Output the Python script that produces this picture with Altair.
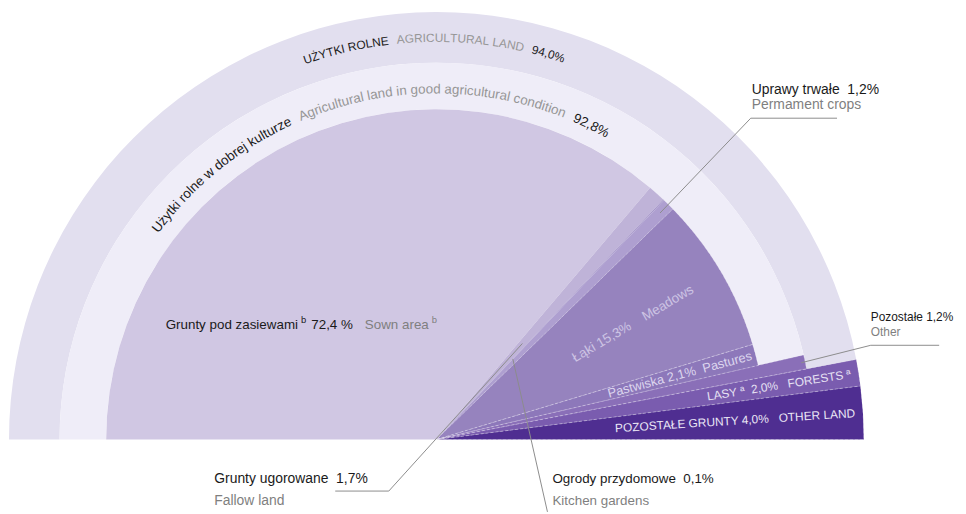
import math
import altair as alt
import pandas as pd

# ------------------------------------------------------------------ data
names_pl = ["Grunty pod zasiewami", "Grunty ugorowane", "Ogrody przydomowe",
            "Uprawy trwałe", "Łąki", "Pastwiska", "Pozostałe", "Lasy",
            "Pozostałe grunty"]
names_en = ["Sown area", "Fallow land", "Kitchen gardens", "Permament crops",
            "Meadows", "Pastures", "Other", "Forests", "Other land"]
shares = [72.4, 1.7, 0.1, 1.2, 15.3, 2.1, 1.2, 2.0, 4.0]
notes = ["b", "", "", "", "", "", "", "a", ""]
# ring that the wedge reaches: 0 inner, 1 "good condition" ring, 2 outer ring
reach = [0, 0, 0, 0, 0, 0, 1, 2, 2]

ring_pl = ["UŻYTKI ROLNE", "Użytki rolne w dobrej kulturze"]
ring_en = ["AGRICULTURAL LAND", "Agricultural land in good agricultural condition"]
ring_totals = [94.0, 92.8]

# ------------------------------------------------------------------ style
FONT = "Liberation Sans"
CX, CY = 432, 433
RADII = [333, 380, 431]
wedge_colors = ["#d0c7e3", "#bfb3d8", "#a090c6", "#ae9fd0", "#9683be",
                "#8d78ba", "#8a6fb8", "#7a5caf", "#4f2e91"]
ring_colors = ["#e2dfef", "#efedf8"]
BLACK, GRAY, LGRAY = "#1a1a1a", "#7f7f7f", "#969696"
THETA = alt.Scale(domain=[0, 100], range=[-math.pi / 2, math.pi / 2])
NB = "\u00a0"


def pct(v):
    return f"{v:.1f}".replace(".", ",")


# Liberation Sans advance widths (1/1000 em)
W = dict(zip("abcdefghijklmnopqrstuvwxyz",
             [556, 556, 500, 556, 556, 278, 556, 556, 222, 222, 500, 222, 833,
              556, 556, 556, 556, 333, 500, 278, 556, 500, 722, 500, 500, 500]))
W.update(dict(zip("ABCDEFGHIJKLMNOPQRSTUVWXYZ",
                  [667, 667, 722, 722, 667, 611, 778, 722, 278, 500, 667, 556, 833,
                   722, 778, 667, 778, 722, 667, 611, 722, 667, 944, 667, 667, 611])))
W.update({" ": 278, ",": 278, ".": 278, "%": 889, "Ż": 611, "ż": 500,
          "Ł": 556, "ł": 222, "ą": 556, "ª": 370})


def adv(ch, size):
    return W.get(ch, 556) * size / 1000


def curved(pieces, r, start_deg, size):
    rows, s = [], 0.0
    for text, color, gap in pieces:
        s += gap
        for ch in text:
            w = adv(ch, size)
            if ch != " ":
                t = start_deg + math.degrees((s + w / 2) / r)
                rows.append(dict(ch=ch, color=color, t=(t + 90) / 180 * 100,
                                 ang=t % 360))
            s += w
    return pd.DataFrame(rows)


# ------------------------------------------------------------------ tables
starts, ends, acc = [], [], 0.0
for v in shares:
    starts.append(acc)
    acc += v
    ends.append(acc)
mids = [(a + b) / 2 for a, b in zip(starts, ends)]

wedges = pd.DataFrame({
    "name": names_pl, "start": starts, "end": ends,
    "r_out": [RADII[k] for k in reach], "color": wedge_colors,
})
rings = pd.DataFrame({
    "name": ring_pl, "start": [0, 0], "end": ring_totals,
    "r_out": [RADII[2], RADII[1]], "r_in": [RADII[1], RADII[0]],
    "color": ring_colors,
})

base_xy = dict(x=alt.value(CX), y=alt.value(CY))

ring_layer = alt.Chart(rings).mark_arc().encode(
    theta=alt.Theta("start:Q", scale=THETA, stack=False),
    theta2="end:Q",
    radius=alt.Radius("r_out:Q", scale=None),
    radius2=alt.Radius2("r_in:Q"),
    color=alt.Color("color:N", scale=None),
    **base_xy,
)

wedge_layer = alt.Chart(wedges).mark_arc().encode(
    theta=alt.Theta("start:Q", scale=THETA, stack=False),
    theta2="end:Q",
    radius=alt.Radius("r_out:Q", scale=None),
    color=alt.Color("color:N", scale=None),
    **base_xy,
)

sep_layer = alt.Chart(wedges.iloc[4:]).mark_arc(
    fillOpacity=0, stroke="#ffffff", strokeWidth=0.6, strokeOpacity=0.35,
    strokeDash=[3, 2]
).encode(
    theta=alt.Theta("start:Q", scale=THETA, stack=False),
    theta2="end:Q",
    radius=alt.Radius("r_out:Q", scale=None),
    **base_xy,
)

# curved ring labels
outer_txt = curved([(ring_pl[0], BLACK, 0), (ring_en[0], LGRAY, 8),
                    (pct(ring_totals[0]) + "%", BLACK, 8)], 401, -19.3, 12)
mid_txt = curved([(ring_pl[1], BLACK, 0), (ring_en[1], LGRAY, 9),
                  (pct(ring_totals[1]) + "%", BLACK, 9)], 349, -53.5, 13.5)


def curved_layer(df, r, size):
    return alt.Chart(df).mark_text(
        font=FONT, fontSize=size, align="center", baseline="alphabetic"
    ).encode(
        theta=alt.Theta("t:Q", scale=THETA, stack=False),
        radius=alt.value(r),
        angle=alt.Angle("ang:Q", scale=None),
        text="ch:N",
        color=alt.Color("color:N", scale=None),
        **base_xy,
    )


# radial labels inside wedges
sup = {"a": NB + "ª", "": ""}
wl = pd.DataFrame([
    dict(text=f"{names_pl[4]} {pct(shares[4])}%{NB * 4}{names_en[4]}", t=mids[4],
         r=230, color="#cdc3e4", size=13.5, align="center"),
    dict(text=f"{names_pl[5]} {pct(shares[5])}%{NB * 2}{names_en[5]}", t=mids[5],
         r=329, color="#dcd5ee", size=13, align="right"),
    dict(text=f"{names_pl[7].upper()}{sup[notes[7]]}{NB * 2}{pct(shares[7])}%{NB * 3}"
              f"{names_en[7].upper()}{sup[notes[7]]}", t=mids[7],
         r=423, color="#e6e1f3", size=12, align="right"),
    dict(text=f"{names_pl[8].upper()} {pct(shares[8])}%{NB * 3}{names_en[8].upper()}",
         t=mids[8], r=423, color="#ebe7f6", size=12, align="right"),
])
wl["ang"] = ((wl["t"] / 100 * 180 - 90) - 90) % 360


def radial_layer(df, align):
    return alt.Chart(df).mark_text(font=FONT, align=align, baseline="middle").encode(
        theta=alt.Theta("t:Q", scale=THETA, stack=False),
        radius=alt.Radius("r:Q", scale=None),
        angle=alt.Angle("ang:Q", scale=None),
        text="text:N",
        color=alt.Color("color:N", scale=None),
        size=alt.Size("size:Q", scale=None),
        **base_xy,
    )


# callouts with leader lines (label layout in pixels)
callouts = [
    # idx, text x, baseline y, elbow x, elbow y, horizontal end x, pointer radius, sep, size
    (3, 750, 85, 749, 109, 836, 321, NB * 2, 14),
    (6, 870, 314, 870, 338, 939, 376, NB, 12),
    (1, 208, 477, 384, 485, 330, 130, NB * 2, 14),
    (2, 549, 477, 544, 506, 544, 112, NB * 2, 13.5),
]
texts, lines = [], []
for i, tx, ty, ex, ey, hx, r, sp, fs in callouts:
    a = math.radians(mids[i] / 100 * 180 - 90)
    px, py = CX + r * math.sin(a), CY - r * math.cos(a)
    texts.append(dict(x=tx, y=ty, text=f"{names_pl[i]}{sp}{pct(shares[i])}%",
                      color=BLACK, size=fs))
    texts.append(dict(x=tx, y=ty + 22 if i in (1, 2) else ty + 15,
                      text=names_en[i], color=GRAY, size=fs))
    lines.append(dict(x=px, y=py, x2=ex, y2=ey))
    if hx != ex:
        lines.append(dict(x=ex, y=ey, x2=hx, y2=ey))

# sown area label built from pieces
x0, y0 = 159, 322
pieces = [(names_pl[0], BLACK, 13.5, 0, 0), (notes[0], BLACK, 9.5, -6, 3),
          (pct(shares[0]) + " %", BLACK, 13.5, 0, 5), (names_en[0], GRAY, 13.5, 0, 12),
          (notes[0], GRAY, 9.5, -6, 3)]
xx = x0
for txt, col, fs, dy, gap in pieces:
    xx += gap
    texts.append(dict(x=xx, y=y0 + dy, text=txt, color=col, size=fs))
    xx += sum(adv(c, fs) for c in txt)

texts = pd.DataFrame(texts)
lines = pd.DataFrame(lines)

line_layer = alt.Chart(lines).mark_rule(color="#8c8c8c", strokeWidth=1).encode(
    x=alt.X("x:Q", scale=None), y=alt.Y("y:Q", scale=None),
    x2="x2:Q", y2="y2:Q",
)
text_layer = alt.Chart(texts).mark_text(
    font=FONT, align="left", baseline="alphabetic"
).encode(
    x=alt.X("x:Q", scale=None), y=alt.Y("y:Q", scale=None),
    text="text:N",
    color=alt.Color("color:N", scale=None),
    size=alt.Size("size:Q", scale=None),
)

chart = alt.layer(
    ring_layer, wedge_layer, sep_layer,
    curved_layer(outer_txt, 401, 12), curved_layer(mid_txt, 349, 13.5),
    radial_layer(wl[wl["align"] == "center"], "center"),
    radial_layer(wl[wl["align"] == "right"], "right"),
    line_layer, text_layer,
).properties(
    width=958, height=506, padding=0,
    autosize=alt.AutoSizeParams(type="none"),
).configure_view(strokeWidth=0)

chart.save("out.html", embed_options={"renderer": "svg", "actions": False})
